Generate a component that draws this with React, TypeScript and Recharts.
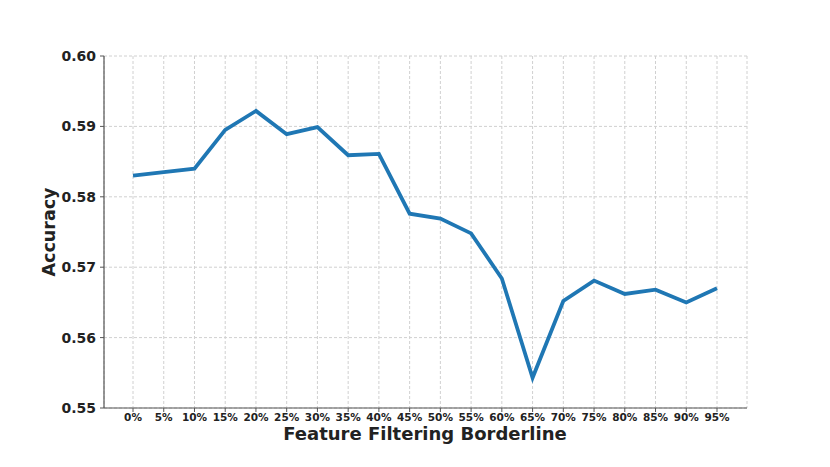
import { LineChart, Line, XAxis, YAxis, CartesianGrid } from 'recharts';

const thresholds = ['0%', '5%', '10%', '15%', '20%', '25%', '30%', '35%', '40%', '45%',
  '50%', '55%', '60%', '65%', '70%', '75%', '80%', '85%', '90%', '95%'];
const accuracy = [0.5830, 0.5835, 0.5840, 0.5895, 0.5922, 0.5889, 0.5899, 0.5859, 0.5861, 0.5776,
  0.5769, 0.5748, 0.5684, 0.5543, 0.5652, 0.5681, 0.5662, 0.5668, 0.5650, 0.5670];
const yTicks = [0.55, 0.56, 0.57, 0.58, 0.59, 0.6];

const data = thresholds.map((label, i) => ({ label, accuracy: accuracy[i] }));

const FONT = '"DejaVu Sans", sans-serif';
const spine = '#555';

export default function App() {
  return (
    <div style={{ position: 'absolute', left: 0, top: 0, background: '#fff' }}>
      <LineChart width={830} height={467} data={data}
        margin={{ top: 56, right: 83, bottom: 0, left: 44 }}>
        <CartesianGrid stroke="#d0d0d0" strokeDasharray="3 2" />
        <XAxis
          dataKey="label"
          height={59}
          padding={{ left: 29, right: 30 }}
          axisLine={{ stroke: spine, strokeWidth: 1.2 }}
          tickLine={{ stroke: spine }}
          tickSize={4}
          tickMargin={2}
          interval={0}
          tick={{ fill: '#222', fontSize: 10.5, fontWeight: 'bold', fontFamily: FONT }}
          label={{
            content: () => (
              <text x={425} y={440} textAnchor="middle" fill="#222"
                style={{ fontSize: 18, fontWeight: 'bold', fontFamily: FONT }}>
                Feature Filtering Borderline
              </text>
            ),
          }}
        />
        <XAxis xAxisId="top" orientation="top" dataKey="label" height={0}
          tick={false} tickLine={false} axisLine={{ stroke: spine, strokeWidth: 1.2 }} />
        <YAxis
          width={60}
          type="number"
          domain={[0.55, 0.6]}
          ticks={yTicks}
          tickFormatter={(v: number) => v.toFixed(2)}
          axisLine={{ stroke: spine, strokeWidth: 1.2 }}
          tickLine={{ stroke: spine }}
          tickSize={4}
          tickMargin={4}
          tick={{ fill: '#222', fontSize: 14, fontWeight: 'bold', fontFamily: FONT }}
          label={{
            content: () => (
              <text x={55} y={232} textAnchor="middle" fill="#222" transform="rotate(-90 55 232)"
                style={{ fontSize: 17.5, fontWeight: 'bold', fontFamily: FONT }}>
                Accuracy
              </text>
            ),
          }}
        />
        <YAxis yAxisId="right" orientation="right" width={0} type="number" domain={[0, 1]}
          tick={false} tickLine={false} axisLine={{ stroke: spine, strokeWidth: 1.2 }} />
        <Line
          type="linear"
          dataKey="accuracy"
          stroke="#1f77b4"
          strokeWidth={3.8}
          dot={false}
          isAnimationActive={false}
        />
      </LineChart>
    </div>
  );
}
